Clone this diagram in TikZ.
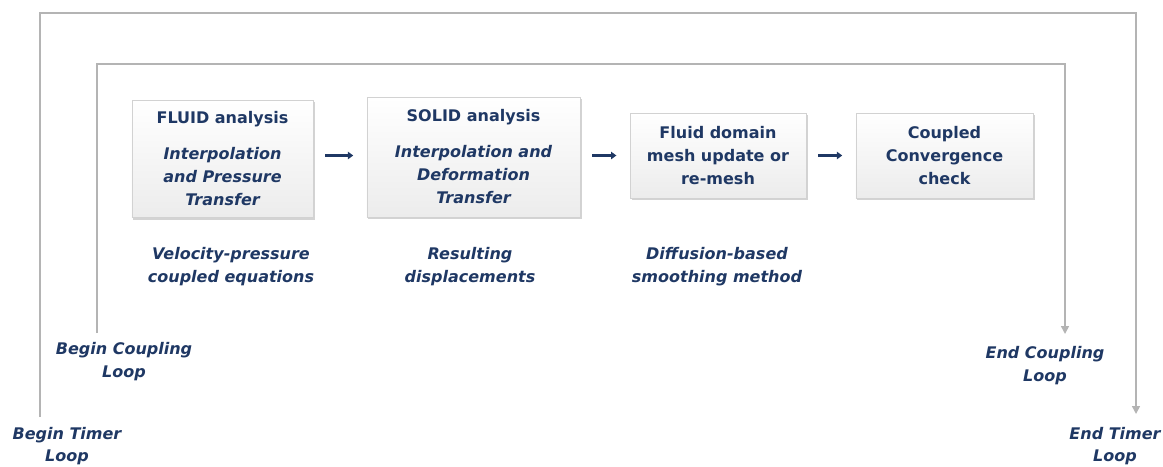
\documentclass[tikz,border=0pt]{standalone}
\usepackage{fontspec}
\setmainfont{DejaVu Sans}
\usetikzlibrary{arrows.meta,shadows}
\definecolor{navy}{HTML}{1F3864}
\definecolor{loopgray}{HTML}{B4B4B4}
\tikzset{
  stagebox/.style={draw=gray!35, top color=white, bottom color=gray!15,
    drop shadow={shadow xshift=1.2pt,shadow yshift=-1.6pt,opacity=0.35},
    align=center, text=navy, inner sep=2pt,
    font=\bfseries\fontsize{12}{17.5}\selectfont},
  note/.style={align=center, text=navy, font=\bfseries\itshape\fontsize{12}{17.5}\selectfont},
  flow/.style={navy, line width=1.6pt, -{Triangle[length=4pt,width=5.5pt]},
    shorten <=9pt, shorten >=10pt},
  loopline/.style={loopgray, line width=1.1pt, -{Triangle[length=6pt,width=6pt]}}
}
\begin{document}
\begin{tikzpicture}[x=0.75pt,y=-0.75pt]
\useasboundingbox (0,0) rectangle (1163,467);
% stages
\node[stagebox,minimum width=136pt,minimum height=88pt] (fluid) at (222.5,159)
  {FLUID analysis\\[9pt]\itshape Interpolation\\\itshape and Pressure\\\itshape Transfer};
\node[stagebox,minimum width=160pt,minimum height=90pt] (solid) at (473.5,157)
  {SOLID analysis\\[9pt]\itshape Interpolation and\\\itshape Deformation\\\itshape Transfer};
\node[stagebox,minimum width=132pt,minimum height=64pt] (mesh) at (718,155.5)
  {Fluid domain\\mesh update or\\re-mesh};
\node[stagebox,minimum width=133pt,minimum height=64pt] (conv) at (944.5,155.5)
  {Coupled\\Convergence\\check};
\draw[flow] (fluid.east |- mesh.west) -- (solid.west |- mesh.west);
\draw[flow] (solid.east |- mesh.west) -- (mesh.west);
\draw[flow] (mesh.east) -- (conv.west);
% notes under the stages
\node[note] (vel) at (231,266.5) {Velocity-pressure\\coupled equations};
\node[note] (disp) at (470,266.5) {Resulting\\displacements};
\node[note] (diff) at (717,266.5) {Diffusion-based\\smoothing method};
% loops
\coordinate (tbegin) at (40,417);
\coordinate (tend) at (1136,414);
\coordinate (cbegin) at (97,333);
\coordinate (cend) at (1065,334);
\draw[loopline] (tbegin) |- ++(0,-404) -| (tend);
\draw[loopline] (cbegin) |- ++(0,-269) -| (cend);
\node[note] (bcl) at (124,361.5) {Begin Coupling\\Loop};
\node[note] (ecl) at (1045,365.5) {End Coupling\\Loop};
\node[note,font=\bfseries\itshape\fontsize{12}{16.5}\selectfont] (btl) at (67,446) {Begin Timer\\Loop};
\node[note,font=\bfseries\itshape\fontsize{12}{16.5}\selectfont] (etl) at (1115,446) {End Timer\\Loop};
\end{tikzpicture}
\end{document}
